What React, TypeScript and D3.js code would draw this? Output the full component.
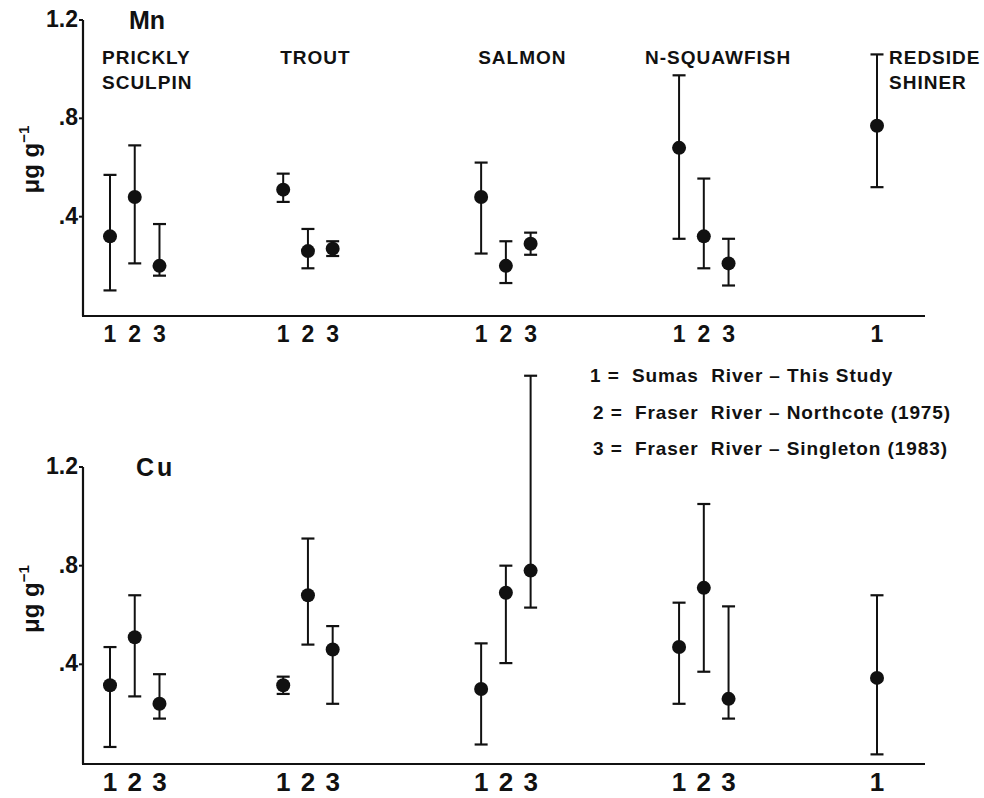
import React from "react";
import * as d3 from "d3";

// ---- data ----
const speciesLines: string[][] = [
  ["PRICKLY", "SCULPIN"],
  ["TROUT"],
  ["SALMON"],
  ["N-SQUAWFISH"],
  ["REDSIDE", "SHINER"],
];
const sourceCodes = ["1", "2", "3"];
const legendRows = [
  "1 =  Sumas  River – This Study",
  "2 =  Fraser  River – Northcote (1975)",
  "3 =  Fraser  River – Singleton (1983)",
];
const yTicks = [0.4, 0.8, 1.2];
const yTickLabels = [".4", ".8", "1.2"];

// Mn (µg/g): mean, lower, upper per species / source
const mnMean = [[0.32, 0.48, 0.2], [0.51, 0.26, 0.27], [0.48, 0.2, 0.29], [0.68, 0.32, 0.21], [0.77]];
const mnLow = [[0.1, 0.21, 0.16], [0.46, 0.19, 0.24], [0.25, 0.13, 0.245], [0.31, 0.19, 0.12], [0.52]];
const mnHigh = [[0.57, 0.69, 0.37], [0.575, 0.35, 0.3], [0.62, 0.3, 0.335], [0.975, 0.555, 0.31], [1.06]];

// Cu (µg/g)
const cuMean = [[0.315, 0.51, 0.24], [0.315, 0.68, 0.46], [0.3, 0.69, 0.78], [0.47, 0.71, 0.26], [0.345]];
const cuLow = [[0.065, 0.27, 0.18], [0.28, 0.48, 0.24], [0.075, 0.405, 0.63], [0.24, 0.37, 0.18], [0.035]];
const cuHigh = [[0.47, 0.68, 0.36], [0.35, 0.91, 0.555], [0.485, 0.8, 1.57], [0.65, 1.05, 0.635], [0.68]];

// ---- layout ----
const W = 984;
const H = 798;
const groupStart = [0, 7, 15, 23, 31];
const labelOffset = [-8, -3, -3, -34, 12];
const FONT = "'Liberation Sans', Arial, Helvetica, sans-serif";

const x = d3.scaleLinear().domain([0, 31]).range([110, 877]);
const axisLeft = 83;
const axisRight = 925;

type PanelProps = {
  name: string;
  mean: number[][];
  low: number[][];
  high: number[][];
  y: d3.ScaleLinear<number, number>;
  showSpecies: boolean;
  codeSize: number;
  codeBaseline: number;
  nameX: number;
  nameLS: number;
  labelShift: number;
};

function Panel({ name, mean, low, high, y, showSpecies, codeSize, codeBaseline, nameX, nameLS, labelShift }: PanelProps) {
  const y0 = y(0);
  const yTop = y(1.2);
  const items: { sx: number; m: number; lo: number; hi: number; code: string }[] = [];
  mean.forEach((arr, g) =>
    arr.forEach((m, i) =>
      items.push({ sx: x(groupStart[g] + i), m, lo: low[g][i], hi: high[g][i], code: sourceCodes[i] })
    )
  );
  const capW = 13;
  return (
    <g>
      {/* axes */}
      <line x1={axisLeft} x2={axisLeft} y1={yTop} y2={y0 + 1} stroke="#111" strokeWidth={2.2} />
      <line x1={axisLeft - 1} x2={axisRight} y1={y0 + 1} y2={y0 + 1} stroke="#111" strokeWidth={2.2} />
      {yTicks.map((t, i) => (
        <g key={t}>
          <line x1={axisLeft - 4} x2={axisLeft} y1={y(t)} y2={y(t)} stroke="#111" strokeWidth={2} />
          <text
            x={axisLeft - 5}
            y={y(t)}
            dy="0.3em"
            textAnchor="end"
            fontFamily={FONT}
            fontWeight="bold"
            fontSize={23}
            fill="#111"
          >
            {yTickLabels[i]}
          </text>
        </g>
      ))}
      <text
        transform={`translate(39,${(y(0.4) + y(0.8)) / 2 + labelShift}) rotate(-90)`}
        textAnchor="middle"
        fontFamily={FONT}
        fontWeight="bold"
        fontSize={24}
        fill="#111"
      >
        μg g<tspan dy={-10} fontSize={15}>−1</tspan>
      </text>
      <text x={nameX} y={yTop + 9} fontFamily={FONT} fontWeight="bold" fontSize={25} letterSpacing={nameLS} fill="#111">
        {name}
      </text>
      {/* error bars and points */}
      {items.map((d, k) => (
        <g key={k}>
          <line x1={d.sx} x2={d.sx} y1={y(d.lo)} y2={y(d.hi)} stroke="#111" strokeWidth={2} />
          <line x1={d.sx - capW / 2} x2={d.sx + capW / 2} y1={y(d.lo)} y2={y(d.lo)} stroke="#111" strokeWidth={2.2} />
          <line x1={d.sx - capW / 2} x2={d.sx + capW / 2} y1={y(d.hi)} y2={y(d.hi)} stroke="#111" strokeWidth={2.2} />
          <circle cx={d.sx} cy={y(d.m)} r={7} fill="#111" />
          <text
            x={d.sx}
            y={codeBaseline}
            textAnchor="middle"
            fontFamily={FONT}
            fontWeight="bold"
            fontSize={codeSize}
            fill="#111"
          >
            {d.code}
          </text>
        </g>
      ))}
      {showSpecies &&
        speciesLines.map((lines, g) => (
          <text
            key={g}
            x={x(groupStart[g]) + labelOffset[g]}
            y={64}
            fontFamily={FONT}
            fontWeight="bold"
            fontSize={19}
            letterSpacing={1.0}
            fill="#111"
          >
            {lines.map((l, j) => (
              <tspan key={j} x={x(groupStart[g]) + labelOffset[g]} dy={j === 0 ? 0 : 25}>
                {l}
              </tspan>
            ))}
          </text>
        ))}
    </g>
  );
}

export default function App() {
  const yMn = d3.scaleLinear().domain([0, 1.2]).range([315, 20]);
  const yCu = d3.scaleLinear().domain([0, 1.2]).range([763, 467]);
  return (
    <svg width={W} height={H} style={{ position: "absolute", left: 0, top: 0, background: "#fff" }}>
      <rect width={W} height={H} fill="#fff" />
      <Panel
        name="Mn"
        mean={mnMean}
        low={mnLow}
        high={mnHigh}
        y={yMn}
        showSpecies={true}
        codeSize={23}
        codeBaseline={342}
        nameX={129}
        nameLS={0}
        labelShift={-8}
        />
      <Panel
        name="Cu"
        mean={cuMean}
        low={cuLow}
        high={cuHigh}
        y={yCu}
        showSpecies={false}
        codeSize={26}
        codeBaseline={791}
        nameX={136}
        nameLS={3}
        labelShift={-16}
      />
      {legendRows.map((r, i) => (
        <text
          key={i}
          x={i === 0 ? 590 : 593}
          y={382 + i * 36.5}
          fontFamily={FONT}
          fontWeight="bold"
          fontSize={19}
          letterSpacing={0.9}
          style={{ whiteSpace: "pre" }}
          fill="#111"
        >
          {r}
        </text>
      ))}
    </svg>
  );
}
